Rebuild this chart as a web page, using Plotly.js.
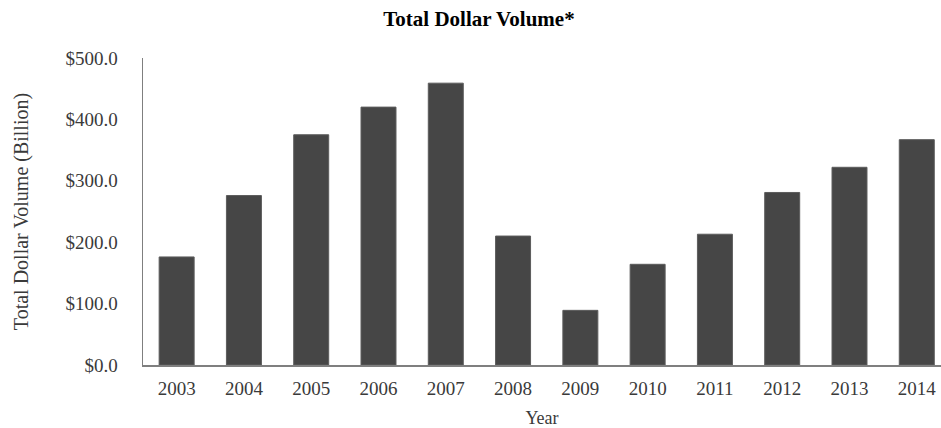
<!DOCTYPE html>
<html>
<head>
<meta charset="utf-8">
<script src="https://cdn.plot.ly/plotly-3.0.1.min.js"></script>
<style>html,body{margin:0;padding:0;background:#fff;}#chart{width:941px;height:428px;}</style>
</head>
<body>
<div id="chart"></div>
<script>
var years = ["2003","2004","2005","2006","2007","2008","2009","2010","2011","2012","2013","2014"];
var volume = [176, 276, 375, 420, 459, 210, 89, 164, 213, 281, 322, 367];
var yTickVals = [0, 100, 200, 300, 400, 500];
var yTickText = ["$0.0", "$100.0", "$200.0", "$300.0", "$400.0", "$500.0"];

var serif = "'Liberation Serif', 'Times New Roman', serif";

var trace = {
  type: "bar",
  x: years,
  y: volume,
  width: 0.52,
  marker: {color: "#464646", line: {color: "#5c5c5c", width: 1}},
  hoverinfo: "x+y"
};

var layout = {
  width: 941,
  height: 428,
  margin: {l: 143, r: 0, t: 58, b: 63},
  paper_bgcolor: "#ffffff",
  plot_bgcolor: "#ffffff",
  showlegend: false,
  title: {
    text: "<b>Total Dollar Volume*</b>",
    font: {family: serif, size: 21, color: "#000000"},
    x: 0.509, xanchor: "center", xref: "container",
    y: 0.957, yanchor: "middle", yref: "container"
  },
  xaxis: {
    type: "category",
    range: [-0.5, 11.36],
    showline: true, linecolor: "#7f7f7f", linewidth: 1.5,
    showgrid: false, zeroline: false,
    ticks: "outside", ticklen: 6, tickcolor: "rgba(0,0,0,0)",
    tickfont: {family: serif, size: 19, color: "#3a3a3a"},
    title: {text: "Year", font: {family: serif, size: 18, color: "#3a3a3a"}, standoff: 14}
  },
  yaxis: {
    range: [0, 500],
    tickvals: yTickVals,
    ticktext: yTickText,
    showline: true, linecolor: "#7f7f7f", linewidth: 1.5,
    showgrid: false, zeroline: false,
    ticks: "outside", ticklen: 20, tickcolor: "rgba(0,0,0,0)",
    tickfont: {family: serif, size: 19, color: "#3a3a3a"},
    title: {text: "Total Dollar Volume (Billion)", font: {family: serif, size: 20, color: "#3a3a3a"}, standoff: 31}
  }
};

Plotly.newPlot("chart", [trace], layout, {displayModeBar: false, staticPlot: true});
</script>
</body>
</html>
